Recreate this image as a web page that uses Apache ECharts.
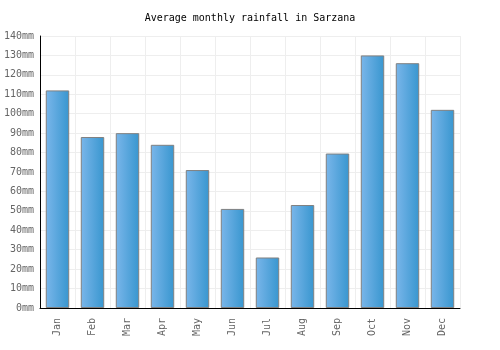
<!DOCTYPE html>
<html>
<head>
<meta charset="utf-8">
<script src="https://cdn.jsdelivr.net/npm/echarts@6/dist/echarts.min.js"></script>
<style>
  html, body { margin: 0; padding: 0; background: #fff; }
  #chart { width: 500px; height: 350px; }
</style>
</head>
<body>
<div id="chart"></div>
<script>
  var months = ['Jan', 'Feb', 'Mar', 'Apr', 'May', 'Jun', 'Jul', 'Aug', 'Sep', 'Oct', 'Nov', 'Dec'];
  var rainfall = [112, 88, 90, 84, 71, 51, 26, 53, 79.5, 130, 126, 102];

  var font = '"DejaVu Sans Mono", monospace';
  var chart = echarts.init(document.getElementById('chart'));
  chart.setOption({
    animation: false,
    title: {
      text: 'Average monthly rainfall in Sarzana',
      left: 'center',
      top: 8,
      textStyle: { fontFamily: font, fontSize: 10, fontWeight: 'normal', color: '#000' }
    },
    grid: { left: 40, right: 40, top: 36, bottom: 42 },
    xAxis: {
      type: 'category',
      data: months,
      axisLine: { lineStyle: { color: '#000', width: 1 } },
      axisTick: { show: false },
      splitLine: { show: true, interval: 0, lineStyle: { color: '#eeeeee' } },
      axisLabel: { rotate: 90, interval: 0, fontFamily: font, fontSize: 10, color: '#666', margin: 10 }
    },
    yAxis: {
      type: 'value',
      min: 0,
      max: 140,
      interval: 10,
      axisLine: { show: true, lineStyle: { color: '#000', width: 1 } },
      axisTick: { show: false },
      splitLine: { lineStyle: { color: '#eeeeee' } },
      axisLabel: { formatter: '{value}mm', fontFamily: font, fontSize: 10, color: '#666', margin: 6 }
    },
    series: [{
      type: 'bar',
      data: rainfall,
      barWidth: '67%',
      itemStyle: {
        borderColor: '#808080',
        borderWidth: 1,
        color: new echarts.graphic.LinearGradient(0, 0, 1, 0, [
          { offset: 0, color: '#7ab6ea' },
          { offset: 1, color: '#3896cf' }
        ])
      }
    }]
  });
</script>
</body>
</html>
